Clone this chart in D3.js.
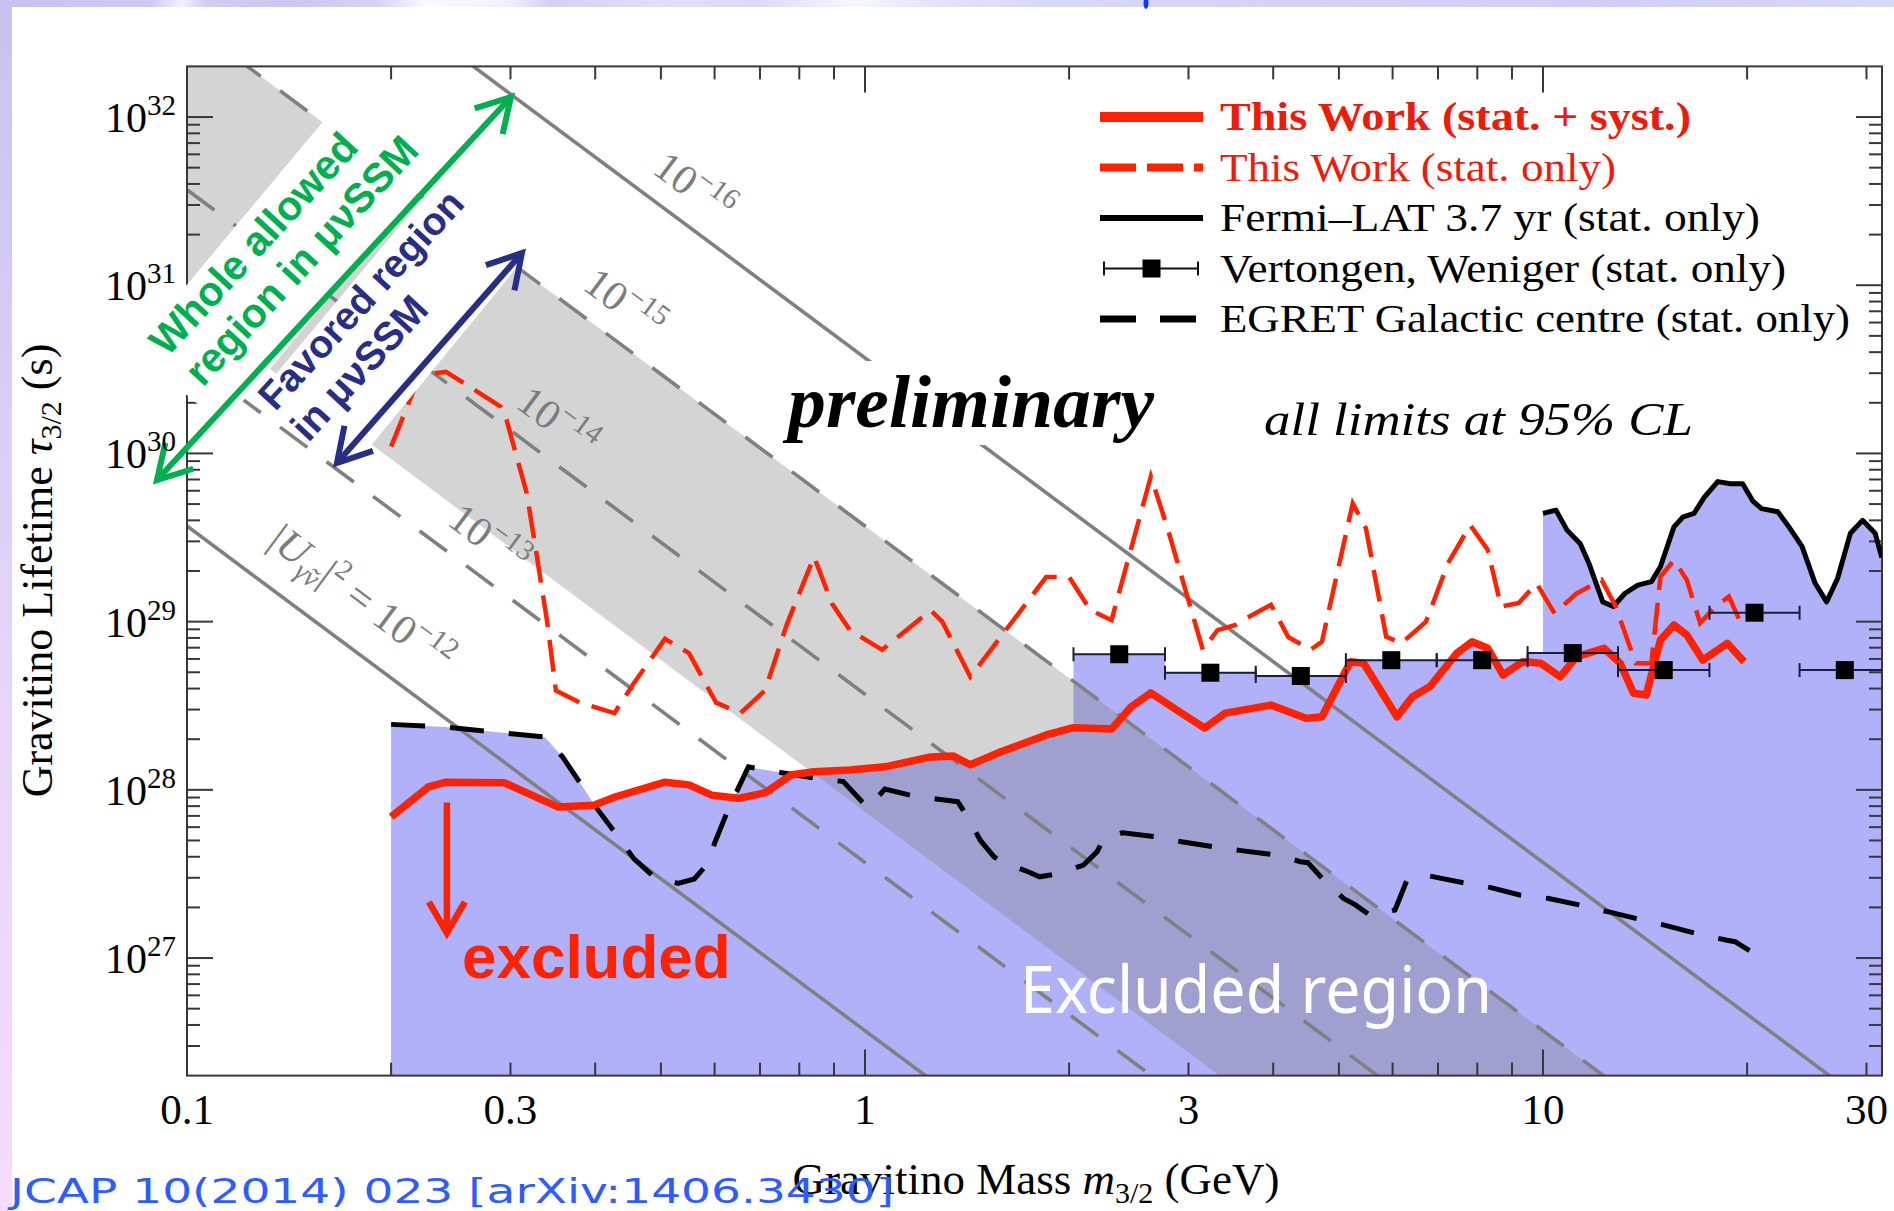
<!DOCTYPE html>
<html>
<head>
<meta charset="utf-8">
<title>Gravitino lifetime limits</title>
<script src="https://cdn.jsdelivr.net/npm/d3@7/dist/d3.min.js"></script>
<style>
  html, body { margin: 0; padding: 0; background: #fff; }
  svg { display: block; }
</style>
</head>
<body>
<svg id="fig" width="1894" height="1211"></svg>
<script>
// ---------------------------------------------------------------------------
// Data: gravitino mass m (GeV) and 95% CL lower limit on the lifetime tau (s)
// ---------------------------------------------------------------------------
const thisWorkSyst = [
  [0.200, 6.9e27], [0.227, 1.04e28], [0.241, 1.11e28], [0.294, 1.10e28],
  [0.353, 7.9e27], [0.398, 8.1e27], [0.429, 9.1e27], [0.507, 1.11e28],
  [0.550, 1.07e28], [0.594, 9.3e27], [0.650, 8.9e27], [0.712, 9.6e27],
  [0.780, 1.23e28], [0.841, 1.28e28], [0.950, 1.31e28], [1.07, 1.37e28],
  [1.25, 1.57e28], [1.35, 1.59e28], [1.43, 1.41e28], [1.59, 1.69e28],
  [1.85, 2.12e28], [2.03, 2.34e28], [2.31, 2.30e28], [2.47, 3.12e28],
  [2.64, 3.77e28], [2.88, 2.99e28], [3.17, 2.33e28], [3.40, 2.86e28],
  [3.97, 3.19e28], [4.47, 2.66e28], [4.72, 2.72e28], [5.20, 5.78e28],
  [5.44, 5.65e28], [6.09, 2.72e28], [6.42, 3.58e28], [6.81, 4.11e28],
  [7.46, 6.48e28], [7.86, 7.60e28], [8.29, 6.94e28], [8.73, 4.82e28],
  [9.34, 5.78e28], [9.93, 5.65e28], [10.6, 4.70e28], [11.2, 6.18e28],
  [12.3, 6.94e28], [13.0, 5.65e28], [13.6, 3.75e28], [14.2, 3.66e28],
  [14.9, 7.78e28], [15.6, 9.55e28], [16.3, 8.32e28], [17.2, 5.91e28],
  [18.7, 7.43e28], [19.8, 5.78e28]
];

const thisWorkStat = [
  [0.200, 1.10e30], [0.219, 2.73e30], [0.232, 3.00e30], [0.241, 3.06e30],
  [0.256, 2.62e30], [0.290, 1.90e30], [0.296, 1.58e30], [0.317, 5.8e29],
  [0.327, 2.67e29], [0.340, 9.8e28], [0.350, 3.9e28], [0.380, 3.3e28],
  [0.427, 2.86e28], [0.456, 4.3e28], [0.507, 7.9e28], [0.550, 6.5e28],
  [0.603, 3.3e28], [0.655, 2.86e28], [0.712, 3.9e28], [0.768, 9.8e28],
  [0.841, 2.43e29], [0.894, 1.28e29], [0.950, 8.9e28], [1.06, 6.8e28],
  [1.25, 1.17e29], [1.30, 1.0e29], [1.43, 4.7e28], [1.85, 1.84e29],
  [2.00, 1.84e29], [2.15, 1.17e29], [2.31, 1.02e29], [2.64, 7.3e29],
  [2.79, 3.66e29], [3.15, 6.8e28], [3.31, 8.9e28], [3.52, 9.55e28],
  [3.73, 1.10e29], [3.97, 1.26e29], [4.21, 8.1e28], [4.54, 6.8e28],
  [4.72, 7.6e28], [5.24, 5.05e29], [5.48, 3.59e29], [5.87, 8.15e28],
  [6.18, 7.43e28], [6.72, 1.0e29], [7.24, 2.22e29], [7.81, 3.75e29],
  [8.29, 2.67e29], [8.67, 1.23e29], [9.21, 1.29e29], [9.78, 1.69e29],
  [10.4, 1.12e29], [11.2, 1.47e29], [12.2, 1.77e29], [12.8, 1.23e29],
  [13.7, 5.65e28], [14.45, 5.65e28], [14.9, 1.85e29], [15.6, 2.32e29],
  [16.3, 1.77e29], [17.05, 9.8e28], [17.85, 1.20e29], [18.8, 1.41e29],
  [19.8, 8.9e28]
];

const fermiLat37 = [
  [10.0, 4.4e29], [10.45, 4.6e29], [10.85, 3.5e29], [11.35, 2.9e29],
  [11.7, 2.2e29], [12.25, 1.31e29], [12.7, 1.23e29], [13.2, 1.47e29],
  [13.8, 1.65e29], [14.45, 1.73e29], [14.9, 2.12e29], [15.6, 3.66e29],
  [16.1, 4.2e29], [16.7, 4.4e29], [17.3, 5.5e29], [18.1, 6.8e29],
  [18.9, 6.6e29], [19.7, 6.6e29], [20.4, 5.2e29], [21.0, 4.7e29],
  [22.2, 4.5e29], [23.05, 3.66e29], [24.1, 2.8e29], [25.2, 1.69e29],
  [26.2, 1.31e29], [27.2, 1.81e29], [28.4, 3.35e29], [29.6, 4.0e29],
  [30.9, 3.35e29], [31.6, 2.4e29]
];

const egretGalCentre = [
  [0.200, 2.45e28], [0.241, 2.36e28], [0.337, 2.06e28], [0.358, 1.57e28],
  [0.380, 1.10e28], [0.400, 8.0e27], [0.429, 5.5e27], [0.456, 3.9e27],
  [0.490, 3.0e27], [0.530, 2.78e27], [0.560, 2.95e27], [0.585, 3.6e27],
  [0.601, 4.9e27], [0.625, 7.25e27], [0.650, 1.02e28], [0.673, 1.37e28],
  [0.692, 1.34e28], [0.758, 1.26e28], [0.849, 1.17e28], [0.929, 1.12e28],
  [1.01, 7.8e27], [1.07, 1.01e28], [1.19, 9.1e27], [1.31, 8.7e27],
  [1.37, 8.5e27], [1.41, 7.1e27], [1.48, 5.0e27], [1.55, 4.0e27],
  [1.59, 3.74e27], [1.74, 3.26e27], [1.81, 3.04e27], [1.94, 3.19e27],
  [2.10, 3.57e27], [2.20, 4.29e27], [2.25, 5.15e27], [2.40, 5.56e27],
  [2.69, 5.26e27], [2.93, 4.91e27], [3.26, 4.59e27], [3.59, 4.35e27],
  [4.05, 4.10e27], [4.39, 3.74e27], [4.50, 3.69e27], [4.75, 2.91e27],
  [5.08, 2.26e27], [5.29, 2.07e27], [5.55, 1.80e27], [6.05, 1.93e27],
  [6.30, 2.91e27], [6.79, 3.08e27], [7.60, 2.81e27], [8.35, 2.63e27],
  [9.24, 2.37e27], [10.2, 2.26e27], [11.3, 2.07e27], [12.5, 1.88e27],
  [13.7, 1.72e27], [15.1, 1.57e27], [16.8, 1.40e27], [18.6, 1.28e27],
  [19.2, 1.25e27], [20.3, 1.09e27]
];

// Vertongen & Weniger: one limit per energy bin
const vertongenBinEdges = [2.03, 2.77, 3.77, 5.12, 6.97, 9.49, 12.9, 17.6, 23.9, 32.5];
const vertongenLimits   = [6.4e28, 4.97e28, 4.75e28, 5.9e28, 5.9e28, 6.5e28, 5.15e28, 1.13e29, 5.15e28];

// photino-neutrino mixing |U|^2 for the iso-mixing lines, and the favoured range
const mixingValues  = [1e-16, 1e-15, 1e-14, 1e-13, 1e-12];
const mixingExpText = ["\u221216", "\u221215", "\u221214", "\u221213", "\u221212"];
const favoredMixing = [5e-14, 1e-15];

const massTicks       = [0.1, 0.3, 1, 3, 10, 30];
const massTickLabels  = ["0.1", "0.3", "1", "3", "10", "30"];
const lifetimeTickExp = [27, 28, 29, 30, 31, 32];

const legendLabels = [
  "This Work (stat. + syst.)",
  "This Work (stat. only)",
  "Fermi\u2013LAT 3.7 yr (stat. only)",
  "Vertongen, Weniger (stat. only)",
  "EGRET Galactic centre (stat. only)"
];

// tau = decayNorm / (|U|^2 m^3)   (tau in s, m in GeV)
const decayNorm = 3.7e14;
const lifetimeAt = (m, u2) => decayNorm / (u2 * m * m * m);

// ---------------------------------------------------------------------------
// Layout
// ---------------------------------------------------------------------------
const W = 1894, H = 1211;
const P = { l: 187, r: 1882, t: 66.4, b: 1075.6 };
const x = d3.scaleLog().domain([0.1, Math.pow(10, 1.5)]).range([P.l, P.r]);
const y = d3.scaleLog().domain([2e26, 2e32]).range([P.b, P.t]);
const xy = d => [x(d[0]), y(d[1])];
const line = d3.line();

const RED = "#ff2200", GREEN = "#00b04f", NAVY = "#282e86", GREY = "#808080";
const SERIF = "'Liberation Serif', 'Times New Roman', serif";
const SANS = "'Liberation Sans', Arial, sans-serif";

const svg = d3.select("#fig");
const defs = svg.append("defs");
defs.append("clipPath").attr("id", "plotClip")
  .append("rect").attr("x", P.l).attr("y", P.t)
  .attr("width", P.r - P.l).attr("height", P.b - P.t);

// slide background behind the figure
const topGrad = defs.append("linearGradient").attr("id", "topBand");
[[0, "#c6c1ef"], [0.08, "#cfcaf3"], [0.096, "#f4f2fd"], [0.108, "#d3cdf4"],
 [0.15, "#cbc5f2"], [0.2, "#d9d2f6"], [0.225, "#fbfaff"], [0.27, "#f2eefc"],
 [0.29, "#d6d0f5"], [0.35, "#e3defa"], [0.4, "#dcdaf8"], [0.45, "#f7f7fe"],
 [0.49, "#e6e4fb"], [0.55, "#d8d8f8"], [0.7, "#d4d2f7"], [0.85, "#d0cef6"],
 [1, "#d8d8f7"]].forEach(s => topGrad.append("stop").attr("offset", s[0]).attr("stop-color", s[1]));
const leftGrad = defs.append("linearGradient").attr("id", "leftBand")
  .attr("x1", 0).attr("y1", 0).attr("x2", 0).attr("y2", 1);
[[0, "#c7c2f0"], [0.3, "#d6cdf6"], [0.6, "#e7d6f9"], [1, "#f6dcf9"]]
  .forEach(s => leftGrad.append("stop").attr("offset", s[0]).attr("stop-color", s[1]));

svg.append("rect").attr("width", W).attr("height", H).attr("fill", "#d6d2f6");
svg.append("rect").attr("width", W).attr("height", 8).attr("fill", "url(#topBand)");
svg.append("rect").attr("width", 12).attr("height", H).attr("fill", "url(#leftBand)");
svg.append("rect").attr("x", 12).attr("y", 7).attr("width", W - 12).attr("height", H - 7).attr("fill", "#fff");
svg.append("ellipse").attr("cx", 1146).attr("cy", 3).attr("rx", 2.5).attr("ry", 6).attr("fill", "#1436ff");

// ---------------------------------------------------------------------------
// Shaded regions
// ---------------------------------------------------------------------------
const massDomain = x.domain();
const plotG = svg.append("g").attr("clip-path", "url(#plotClip)");

// excluded region = union of the areas under every limit
const floor = y.domain()[0];
const underCurve = pts => [[pts[0][0], floor], ...pts, [pts[pts.length - 1][0], floor]];
const vertongenSteps = [];
vertongenLimits.forEach((v, i) => {
  vertongenSteps.push([vertongenBinEdges[i], v], [vertongenBinEdges[i + 1], v]);
});
const exclG = plotG.append("g");
[egretGalCentre, thisWorkSyst, vertongenSteps, fermiLat37].forEach(pts => {
  exclG.append("path").attr("d", line(underCurve(pts).map(xy)) + "Z").attr("fill", "#b1b1f9");
});

// favoured mixing band, translucent so the excluded area shows through
const band = [
  [massDomain[0], lifetimeAt(massDomain[0], favoredMixing[1])],
  [massDomain[1], lifetimeAt(massDomain[1], favoredMixing[1])],
  [massDomain[1], lifetimeAt(massDomain[1], favoredMixing[0])],
  [massDomain[0], lifetimeAt(massDomain[0], favoredMixing[0])]
];
plotG.append("path").attr("d", line(band.map(xy)) + "Z")
  .attr("fill", "#818181").attr("fill-opacity", 0.34);

// iso-mixing lines
mixingValues.forEach((u2, i) => {
  const solid = i === 0 || i === mixingValues.length - 1;
  const pts = massDomain.map(m => [m, lifetimeAt(m, u2)]);
  plotG.append("path").attr("d", line(pts.map(xy)))
    .attr("fill", "none").attr("stroke", GREY).attr("stroke-width", 3.6)
    .attr("stroke-dasharray", solid ? null : "34 24");
});

// labels along the iso-mixing lines
const lineLabelMass = [0.56, 0.442, 0.352, 0.279, 0.181];
const lineLabelLift = [44, 44, 44, 44, 58];
const slopeAngle = Math.atan2(
  y(lifetimeAt(10, 1e-14)) - y(lifetimeAt(1, 1e-14)), x(10) - x(1)) * 180 / Math.PI;
mixingValues.forEach((u2, i) => {
  const m = lineLabelMass[i];
  const px = x(m), py = y(lifetimeAt(m, u2)) - lineLabelLift[i];
  const t = svg.append("text")
    .attr("transform", `translate(${px},${py}) rotate(${slopeAngle})`)
    .attr("y", 14).attr("text-anchor", "middle")
    .attr("font-family", SERIF).attr("font-size", 42).attr("fill", "#7c7c7c");
  if (i < mixingValues.length - 1) {
    t.append("tspan").text("10");
    t.append("tspan").attr("dy", -17).attr("font-size", 29).text(mixingExpText[i]);
  } else {
    t.append("tspan").text("|");
    t.append("tspan").attr("font-style", "italic").text("U");
    t.append("tspan").attr("dy", 9).attr("font-size", 28).attr("font-style", "italic").text("\u03B3\u0303\u03BD");
    t.append("tspan").attr("dy", -9).text("|");
    t.append("tspan").attr("dy", -17).attr("font-size", 28).text("2");
    t.append("tspan").attr("dy", 17).text(" = 10");
    t.append("tspan").attr("dy", -17).attr("font-size", 29).text(mixingExpText[i]);
  }
});

// ---------------------------------------------------------------------------
// Frame and ticks
// ---------------------------------------------------------------------------
const axisG = svg.append("g").attr("stroke", "#383838").attr("stroke-width", 2).attr("fill", "none");
axisG.append("rect").attr("x", P.l).attr("y", P.t).attr("width", P.r - P.l).attr("height", P.b - P.t);
const massMajor = [0.1, 1, 10];
const massMinor = [];
massMajor.forEach(d => { for (let k = 2; k <= 9; k++) if (d * k < massDomain[1]) massMinor.push(d * k); });
const lifeMajor = lifetimeTickExp.map(e => Math.pow(10, e));
const lifeMinor = [];
[26].concat(lifetimeTickExp).forEach(e => {
  for (let k = 2; k <= 9; k++) {
    const v = k * Math.pow(10, e);
    if (v > y.domain()[0] * 1.001 && v < y.domain()[1] * 0.999) lifeMinor.push(v);
  }
});
const tickLen = v => v ? 26 : 13;
[[massMajor, true], [massMinor, false]].forEach(([vals, major]) => vals.forEach(v => {
  const px = x(v), L = tickLen(major);
  axisG.append("line").attr("x1", px).attr("x2", px).attr("y1", P.b).attr("y2", P.b - L);
  axisG.append("line").attr("x1", px).attr("x2", px).attr("y1", P.t).attr("y2", P.t + L);
}));
[[lifeMajor, true], [lifeMinor, false]].forEach(([vals, major]) => vals.forEach(v => {
  const py = y(v), L = tickLen(major);
  axisG.append("line").attr("x1", P.l).attr("x2", P.l + L).attr("y1", py).attr("y2", py);
  axisG.append("line").attr("x1", P.r).attr("x2", P.r - L).attr("y1", py).attr("y2", py);
}));

// ---------------------------------------------------------------------------
// Limit curves
// ---------------------------------------------------------------------------
const curveG = svg.append("g").attr("clip-path", "url(#plotClip)").attr("fill", "none");
curveG.append("path").attr("d", line(egretGalCentre.map(xy)))
  .attr("stroke", "#000").attr("stroke-width", 5).attr("stroke-dasharray", "34 25");
curveG.append("path").attr("d", line(fermiLat37.map(xy)))
  .attr("stroke", "#000").attr("stroke-width", 5).attr("stroke-linejoin", "round");
curveG.append("path").attr("d", line(thisWorkStat.map(xy)))
  .attr("stroke", RED).attr("stroke-width", 4.5).attr("stroke-dasharray", "32 13");
curveG.append("path").attr("d", line(thisWorkSyst.map(xy)))
  .attr("stroke", RED).attr("stroke-width", 7.5).attr("stroke-linejoin", "round");

// Vertongen & Weniger bins
const vwG = svg.append("g").attr("clip-path", "url(#plotClip)");
vertongenLimits.forEach((v, i) => {
  const x0 = x(vertongenBinEdges[i]), x1 = x(vertongenBinEdges[i + 1]), py = y(v);
  vwG.append("line").attr("x1", x0).attr("x2", x1).attr("y1", py).attr("y2", py)
    .attr("stroke", "#1c1c40").attr("stroke-width", 2);
  [x0, x1].forEach(cx => vwG.append("line").attr("x1", cx).attr("x2", cx)
    .attr("y1", py - 7).attr("y2", py + 7).attr("stroke", "#1c1c40").attr("stroke-width", 2));
  const cx = x(Math.sqrt(vertongenBinEdges[i] * vertongenBinEdges[i + 1]));
  vwG.append("rect").attr("x", cx - 9).attr("y", py - 9).attr("width", 18).attr("height", 18).attr("fill", "#000");
});

// ---------------------------------------------------------------------------
// Annotations
// ---------------------------------------------------------------------------
// white callout boxes behind the rotated captions (corners in mass, lifetime)
const calloutBoxes = [
  [[0.1835, 1.90e32], [0.2579, 7.92e31], [0.1130, 1.475e30], [0.0831, 4.12e30]],
  [[0.2313, 3.94e31], [0.3216, 1.62e31], [0.1751, 8.08e29], [0.1259, 2.09e30]]
];
calloutBoxes.forEach(c => svg.append("path").attr("d", line(c.map(xy)) + "Z").attr("fill", "#fff"));

function arrow(from, to, color, width, both, head, spread) {
  const a = xy(from), b = xy(to);
  const g = svg.append("g").attr("stroke", color).attr("stroke-width", width).attr("fill", "none");
  const len = Math.hypot(b[0] - a[0], b[1] - a[1]);
  const ux = (b[0] - a[0]) / len, uy = (b[1] - a[1]) / len;
  const s = both ? 2 : 0;
  g.append("line").attr("x1", a[0] + ux * s).attr("y1", a[1] + uy * s)
    .attr("x2", b[0] - ux * 2).attr("y2", b[1] - uy * 2);
  const tips = both ? [[b, ux, uy], [a, -ux, -uy]] : [[b, ux, uy]];
  tips.forEach(([p, dx, dy]) => {
    const arm = sgn => {
      const c = Math.cos(sgn * spread), sn = Math.sin(sgn * spread);
      const rx = dx * c - dy * sn, ry = dx * sn + dy * c;
      return [p[0] - rx * head, p[1] - ry * head];
    };
    g.append("path").attr("d", "M" + arm(1) + "L" + p + "L" + arm(-1)).attr("stroke-linejoin", "miter");
  });
}
const rad = d => d * Math.PI / 180;
arrow([0.0903, 6.95e29], [0.3005, 1.315e32], GREEN, 6, true, 38, rad(30));
arrow([0.1664, 8.77e29], [0.3119, 1.553e31], NAVY, 6, true, 38, rad(30));
arrow([0.2417, 8.4e27], [0.2417, 1.41e27], RED, 6.5, false, 36, rad(30));

function rotatedCaption(anchor, angle, text, color, size) {
  const p = xy(anchor);
  svg.append("text").attr("transform", `translate(${p}) rotate(${angle})`)
    .attr("font-family", SANS).attr("font-weight", "bold").attr("font-size", size)
    .attr("fill", color).text(text);
}
rotatedCaption([0.0935, 3.70e30], -47.3, "Whole allowed", GREEN, 41);
rotatedCaption([0.1055, 2.45e30], -47.3, "region in \u03BC\u03BDSSM", GREEN, 41);
rotatedCaption([0.1349, 1.76e30], -47.3, "Favored region", NAVY, 39);
rotatedCaption([0.1509, 1.15e30], -47.3, "in \u03BC\u03BDSSM", NAVY, 40);

const pExcl = xy([0.2544, 7.6e26]);
svg.append("text").attr("x", pExcl[0]).attr("y", pExcl[1])
  .attr("font-family", SANS).attr("font-weight", "bold").attr("font-size", 62)
  .attr("fill", RED).text("excluded");

const pReg = xy([1.693, 4.71e26]);
svg.append("text").attr("x", pReg[0]).attr("y", pReg[1])
  .attr("font-family", "'Noto Sans', 'DejaVu Sans', sans-serif").attr("font-size", 66)
  .attr("textLength", 472).attr("lengthAdjust", "spacingAndGlyphs")
  .attr("fill", "#fff").text("Excluded region");

// "preliminary" on its own white patch
const prelG = svg.append("g");
const prelBg = prelG.append("rect").attr("fill", "#fff");
const pPrel = xy([0.770, 1.436e30]);
const prel = prelG.append("text").attr("x", pPrel[0]).attr("y", pPrel[1])
  .attr("font-family", SERIF).attr("font-style", "italic").attr("font-weight", "bold")
  .attr("font-size", 74).attr("textLength", 366).attr("lengthAdjust", "spacingAndGlyphs")
  .attr("fill", "#000").text("preliminary");
const bb = prel.node().getBBox();
prelBg.attr("x", bb.x - 4).attr("y", bb.y).attr("width", bb.width + 8).attr("height", bb.height + 2);

const pCL = xy([3.877, 1.285e30]);
svg.append("text").attr("x", pCL[0]).attr("y", pCL[1])
  .attr("font-family", SERIF).attr("font-style", "italic").attr("font-size", 46)
  .attr("textLength", 429).attr("lengthAdjust", "spacingAndGlyphs")
  .attr("fill", "#000").text("all limits at 95% CL");

// ---------------------------------------------------------------------------
// Legend
// ---------------------------------------------------------------------------
const LG = { x0: 1100, x1: 1203, tx: 1220, y0: 117, dy: 50.5 };
const legendWidths = [471, 396, 540, 566, 630];
const lg = svg.append("g");
legendLabels.forEach((lab, i) => {
  const ry = LG.y0 + i * LG.dy;
  if (i === 0) lg.append("line").attr("stroke", RED).attr("stroke-width", 10);
  if (i === 1) lg.append("line").attr("stroke", RED).attr("stroke-width", 8).attr("stroke-dasharray", "36 11");
  if (i === 2) lg.append("line").attr("stroke", "#000").attr("stroke-width", 6);
  if (i === 3) {
    lg.append("line").attr("stroke", "#111").attr("stroke-width", 2);
    [LG.x0 + 4, LG.x1 - 5].forEach(cx => lg.append("line").attr("x1", cx).attr("x2", cx)
      .attr("y1", ry - 7).attr("y2", ry + 7).attr("stroke", "#111").attr("stroke-width", 2));
    lg.append("rect").attr("x", (LG.x0 + LG.x1) / 2 - 9).attr("y", ry - 9)
      .attr("width", 18).attr("height", 18).attr("fill", "#000");
  }
  if (i === 4) lg.append("line").attr("stroke", "#000").attr("stroke-width", 7).attr("stroke-dasharray", "36 24");
  lg.selectAll("line:not([x1])").attr("x1", i === 3 ? LG.x0 + 4 : LG.x0)
    .attr("x2", i === 3 ? LG.x1 - 5 : LG.x1).attr("y1", ry).attr("y2", ry);
  lg.append("text").attr("x", LG.tx).attr("y", ry + 13)
    .attr("font-family", SERIF).attr("font-size", 40)
    .attr("font-weight", i === 0 ? "bold" : null)
    .attr("fill", i < 2 ? "#ee1a0a" : "#000")
    .attr("textLength", legendWidths[i]).attr("lengthAdjust", "spacingAndGlyphs")
    .text(lab);
});

// ---------------------------------------------------------------------------
// Tick labels and axis titles
// ---------------------------------------------------------------------------
massTicks.forEach((v, i) => {
  svg.append("text").attr("x", x(v)).attr("y", 1124).attr("text-anchor", "middle")
    .attr("font-family", SERIF).attr("font-size", 43).attr("fill", "#000").text(massTickLabels[i]);
});
lifetimeTickExp.forEach(e => {
  const t = svg.append("text").attr("x", 176).attr("y", y(Math.pow(10, e)) + 15)
    .attr("text-anchor", "end").attr("font-family", SERIF).attr("font-size", 42).attr("fill", "#000");
  t.append("tspan").text("10");
  t.append("tspan").attr("dy", -17).attr("font-size", 29).text(String(e));
});

const yTitle = svg.append("text")
  .attr("transform", `translate(52,${(y(1e27) + y(1e32)) / 2 + 33}) rotate(-90)`)
  .attr("text-anchor", "middle").attr("font-family", SERIF).attr("font-size", 44).attr("fill", "#000");
yTitle.append("tspan").text("Gravitino Lifetime ");
yTitle.append("tspan").attr("font-style", "italic").text("\u03C4");
yTitle.append("tspan").attr("dy", 9).attr("font-size", 30).text("3/2");
yTitle.append("tspan").attr("dy", -9).text(" (s)");

const xTitle = svg.append("text").attr("x", 1036).attr("y", 1194)
  .attr("text-anchor", "middle").attr("font-family", SERIF).attr("font-size", 45).attr("fill", "#000");
xTitle.append("tspan").text("Gravitino Mass ");
xTitle.append("tspan").attr("font-style", "italic").text("m");
xTitle.append("tspan").attr("dy", 9).attr("font-size", 30).text("3/2");
xTitle.append("tspan").attr("dy", -9).text(" (GeV)");

// reference line at the foot of the slide
svg.append("text").attr("x", 10).attr("y", 1203)
  .attr("font-family", "'DejaVu Sans', Verdana, sans-serif").attr("font-size", 33)
  .attr("textLength", 884).attr("lengthAdjust", "spacingAndGlyphs")
  .attr("fill", "#2d5cff").text("JCAP  10(2014) 023 [arXiv:1406.3430]");
</script>
</body>
</html>
